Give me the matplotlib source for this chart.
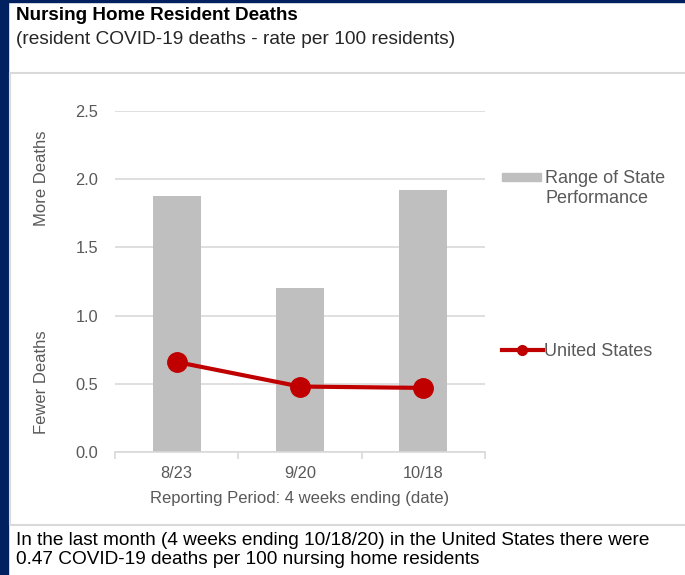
import matplotlib
matplotlib.use("Agg")
import matplotlib.pyplot as plt
from matplotlib.patches import Rectangle, Patch
from matplotlib.lines import Line2D
from matplotlib.legend_handler import HandlerPatch

plt.rcParams['font.family'] = ['Liberation Sans', 'DejaVu Sans']

periods = ["8/23", "9/20", "10/18"]
state_range_max = [1.88, 1.20, 1.92]
us_rate = [0.66, 0.48, 0.47]
y_ticks = [0.0, 0.5, 1.0, 1.5, 2.0, 2.5]

title = "Nursing Home Resident Deaths"
subtitle = "(resident COVID-19 deaths - rate per 100 residents)"
footer = ("In the last month (4 weeks ending 10/18/20) in the United States there were\n"
          "0.47 COVID-19 deaths per 100 nursing home residents")

W, H = 685, 575
fig = plt.figure(figsize=(W / 100, H / 100), dpi=100)
fig.patch.set_facecolor("white")

def fx(px):
    return px / W

def fy(py):
    return 1 - py / H

navy = "#002060"
# borders
fig.patches.append(Rectangle((0, 0), fx(8), 1, transform=fig.transFigure, color=navy, zorder=-2))
fig.patches.append(Rectangle((0, fy(2)), 1, 1, transform=fig.transFigure, color=navy, zorder=-2))
# chart panel frame
fig.patches.append(Rectangle((fx(10), fy(525)), fx(680), fy(73) - fy(525), transform=fig.transFigure,
                             facecolor="none", edgecolor="#d9d9d9", linewidth=1.5, zorder=-1))

ax = fig.add_axes([fx(115), fy(452), fx(370), fy(111) - fy(452)])
ax.set_facecolor("none")
x = list(range(len(periods)))
bars = ax.bar(x, state_range_max, width=0.39, color="#bfbfbf", zorder=2)
line, = ax.plot(x, us_rate, color="#c00000", linewidth=3, marker="o", markersize=14, zorder=3)

ax.set_xlim(-0.5, len(periods) - 0.5)
ax.set_ylim(0, 2.5)
ax.set_yticks(y_ticks)
ax.set_yticklabels([f"{v:.1f}" for v in y_ticks])
ax.yaxis.grid(True, color="#d9d9d9", linewidth=1.2, zorder=0)
ax.set_axisbelow(True)
for s in ["top", "right", "left"]:
    ax.spines[s].set_visible(False)
ax.spines["bottom"].set_color("#d9d9d9")
ax.spines["bottom"].set_linewidth(1.2)
ax.tick_params(axis="y", length=0, pad=12, labelsize=11.8, labelcolor="#595959")
ax.set_xticks(x)
ax.set_xticklabels(periods)
ax.set_xticks([i - 0.5 for i in range(len(periods) + 1)], minor=True)
ax.tick_params(axis="x", which="major", length=0, pad=10, labelsize=11.8, labelcolor="#595959")
ax.tick_params(axis="x", which="minor", length=5, color="#d9d9d9", width=1.2)
ax.set_xlabel("Reporting Period: 4 weeks ending (date)", fontsize=12, color="#595959", labelpad=7)

fig.text(fx(41), fy(178), "More Deaths", rotation=90, ha="center", va="center", fontsize=12, color="#595959")
fig.text(fx(41), fy(382), "Fewer Deaths", rotation=90, ha="center", va="center", fontsize=12, color="#595959")


def top_patch(legend, orig_handle, xdescent, ydescent, width, height, fontsize):
    h = 5.5
    return Rectangle((-xdescent, -ydescent + height / 2 - h / 2 + 8.5), width, h)


leg1 = ax.legend([Patch(color="#bfbfbf")], ["Range of State\nPerformance"], loc="upper left",
                 bbox_to_anchor=(fx(502), fy(170)), bbox_transform=fig.transFigure,
                 frameon=False, fontsize=13, handlelength=2.15, handleheight=0.35, handletextpad=0.25,
                 labelcolor="#595959", borderpad=0, borderaxespad=0, labelspacing=0.2,
                 handler_map={Patch: HandlerPatch(patch_func=top_patch)})
for t in leg1.get_texts():
    t.set_linespacing(1.25)
ax.add_artist(leg1)
ax.legend([Line2D([0], [0], color="#c00000", linewidth=3, marker="o", markersize=7)], ["United States"],
          loc="center left", bbox_to_anchor=(fx(502), fy(352)), bbox_transform=fig.transFigure,
          frameon=False, fontsize=13, handlelength=2.25, handletextpad=0.1, labelcolor="#595959",
          borderpad=0, borderaxespad=0)

fig.text(fx(16), fy(15), title, ha="left", va="center", fontsize=13.6, fontweight="bold", color="#000000")
fig.text(fx(16), fy(39), subtitle, ha="left", va="center", fontsize=13.8, color="#262626")
fig.text(fx(16), fy(550), footer, ha="left", va="center", fontsize=13.7, color="#000000", linespacing=1.15)

fig.savefig("out.png", dpi=100)
